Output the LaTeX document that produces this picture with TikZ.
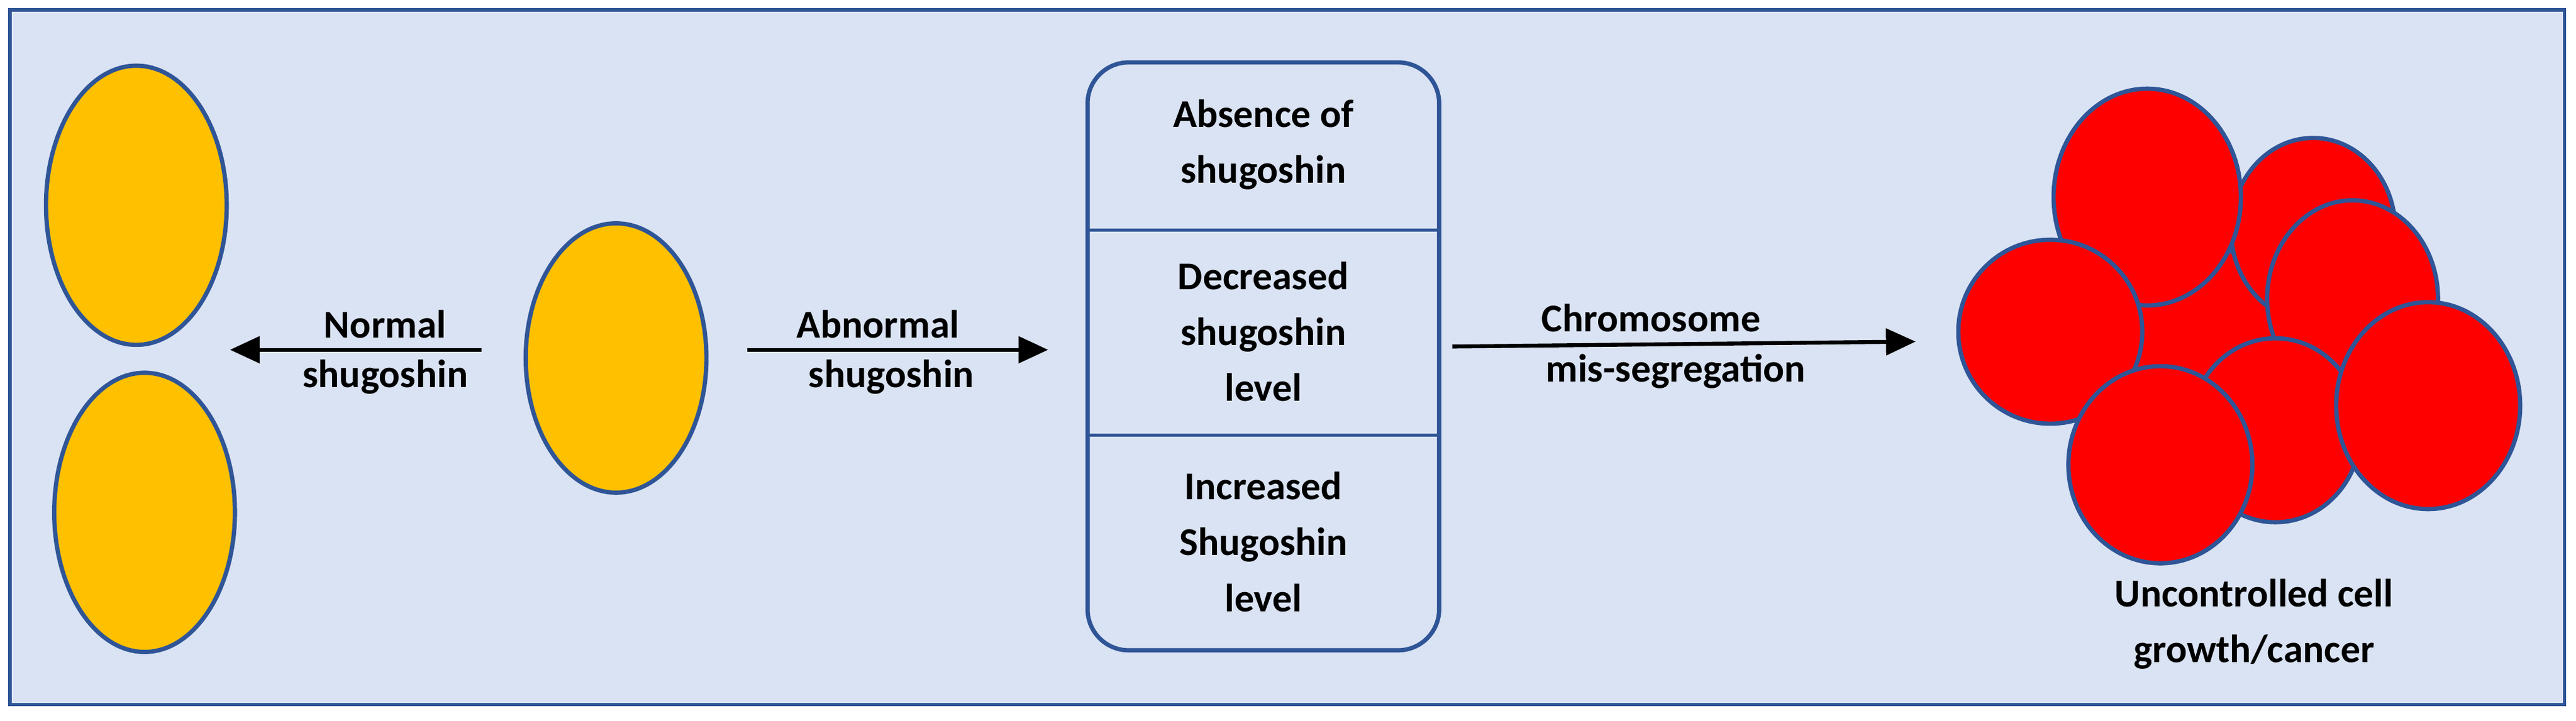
\documentclass[tikz,border=0pt]{standalone}
\usepackage{fontspec}
\setmainfont{Carlito}
\usepackage{tikz}
\usetikzlibrary{arrows.meta}
\definecolor{bgblue}{HTML}{DAE3F3}
\definecolor{edgeblue}{HTML}{2F5597}
\definecolor{cellorange}{HTML}{FFC000}
\tikzset{
    cell/.style={
           draw=edgeblue, line width=2.6pt, fill=cellorange,
           },
    tumour/.style={
           draw=edgeblue, line width=2.6pt, fill=red,
           },
    lbl/.style={
           font=\fontsize{24}{34}\selectfont\bfseries,
           align=center, inner sep=2pt,
           },
    flow/.style={
           line width=2.4pt, -{Triangle[length=18pt,width=16pt]},
           },
}
\begin{document}
\begin{tikzpicture}[x=1pt,y=-1pt]
    % background
    \useasboundingbox (0,0) rectangle (1568,439);
    \draw[edgeblue, fill=bgblue, line width=2pt] (6,6) rectangle (1561,429);

    % normal division
    \draw[cell] (83,125) ellipse [x radius=55, y radius=85];
    \draw[cell] (88,312) ellipse [x radius=55, y radius=85];
    \draw[cell] (375,218) ellipse [x radius=55, y radius=82];

    \coordinate (nstart) at (293,213);
    \coordinate (nend) at (140,213);
    \draw[flow] (nstart) -- (nend)
        node[lbl, midway, above=4pt, xshift=18pt] {Normal}
        node[lbl, midway, below=3pt, xshift=18pt] {shugoshin};

    \coordinate (astart) at (455,213);
    \coordinate (aend) at (638,213);
    \draw[flow] (astart) -- (aend)
        node[lbl, midway, above=4pt, xshift=-12pt] {Abnormal}
        node[lbl, midway, below=3pt, xshift=-4pt] {shugoshin};

    % shugoshin states
    \draw[edgeblue, line width=2.6pt, rounded corners=25pt] (662,38) rectangle (876,396);
    \draw[edgeblue, line width=2pt] (662,140) -- (876,140);
    \draw[edgeblue, line width=2pt] (662,265) -- (876,265);
    \node[lbl] (absent) at (769,88) {Absence of\\shugoshin};
    \node[lbl] (decrease) at (769,202) {Decreased\\shugoshin\\level};
    \node[lbl] (increase) at (769,330) {Increased\\Shugoshin\\level};

    \coordinate (cstart) at (884,211);
    \coordinate (cend) at (1166,208);
    \draw[flow] (cstart) -- (cend)
        node[lbl, midway, above=4pt, xshift=-20pt] {Chromosome}
        node[lbl, midway, below=3pt, xshift=-5pt] {mis-segregation};

    % tumour
    \draw[tumour] (1347,210) ellipse [x radius=55, y radius=58];
    \draw[tumour] (1408,140) ellipse [x radius=50, y radius=56];
    \draw[tumour] (1307,120) ellipse [x radius=57, y radius=66];
    \draw[tumour] (1248,202) ellipse [x radius=56, y radius=56];
    \draw[tumour] (1432,182) ellipse [x radius=52, y radius=60];
    \draw[tumour] (1385,262) ellipse [x radius=52, y radius=56];
    \draw[tumour] (1478,247) ellipse [x radius=56, y radius=63];
    \draw[tumour] (1315,283) ellipse [x radius=56, y radius=60];
    \node[lbl] (cancer) at (1372,380) {Uncontrolled cell\\growth/cancer};
\end{tikzpicture}
\end{document}
